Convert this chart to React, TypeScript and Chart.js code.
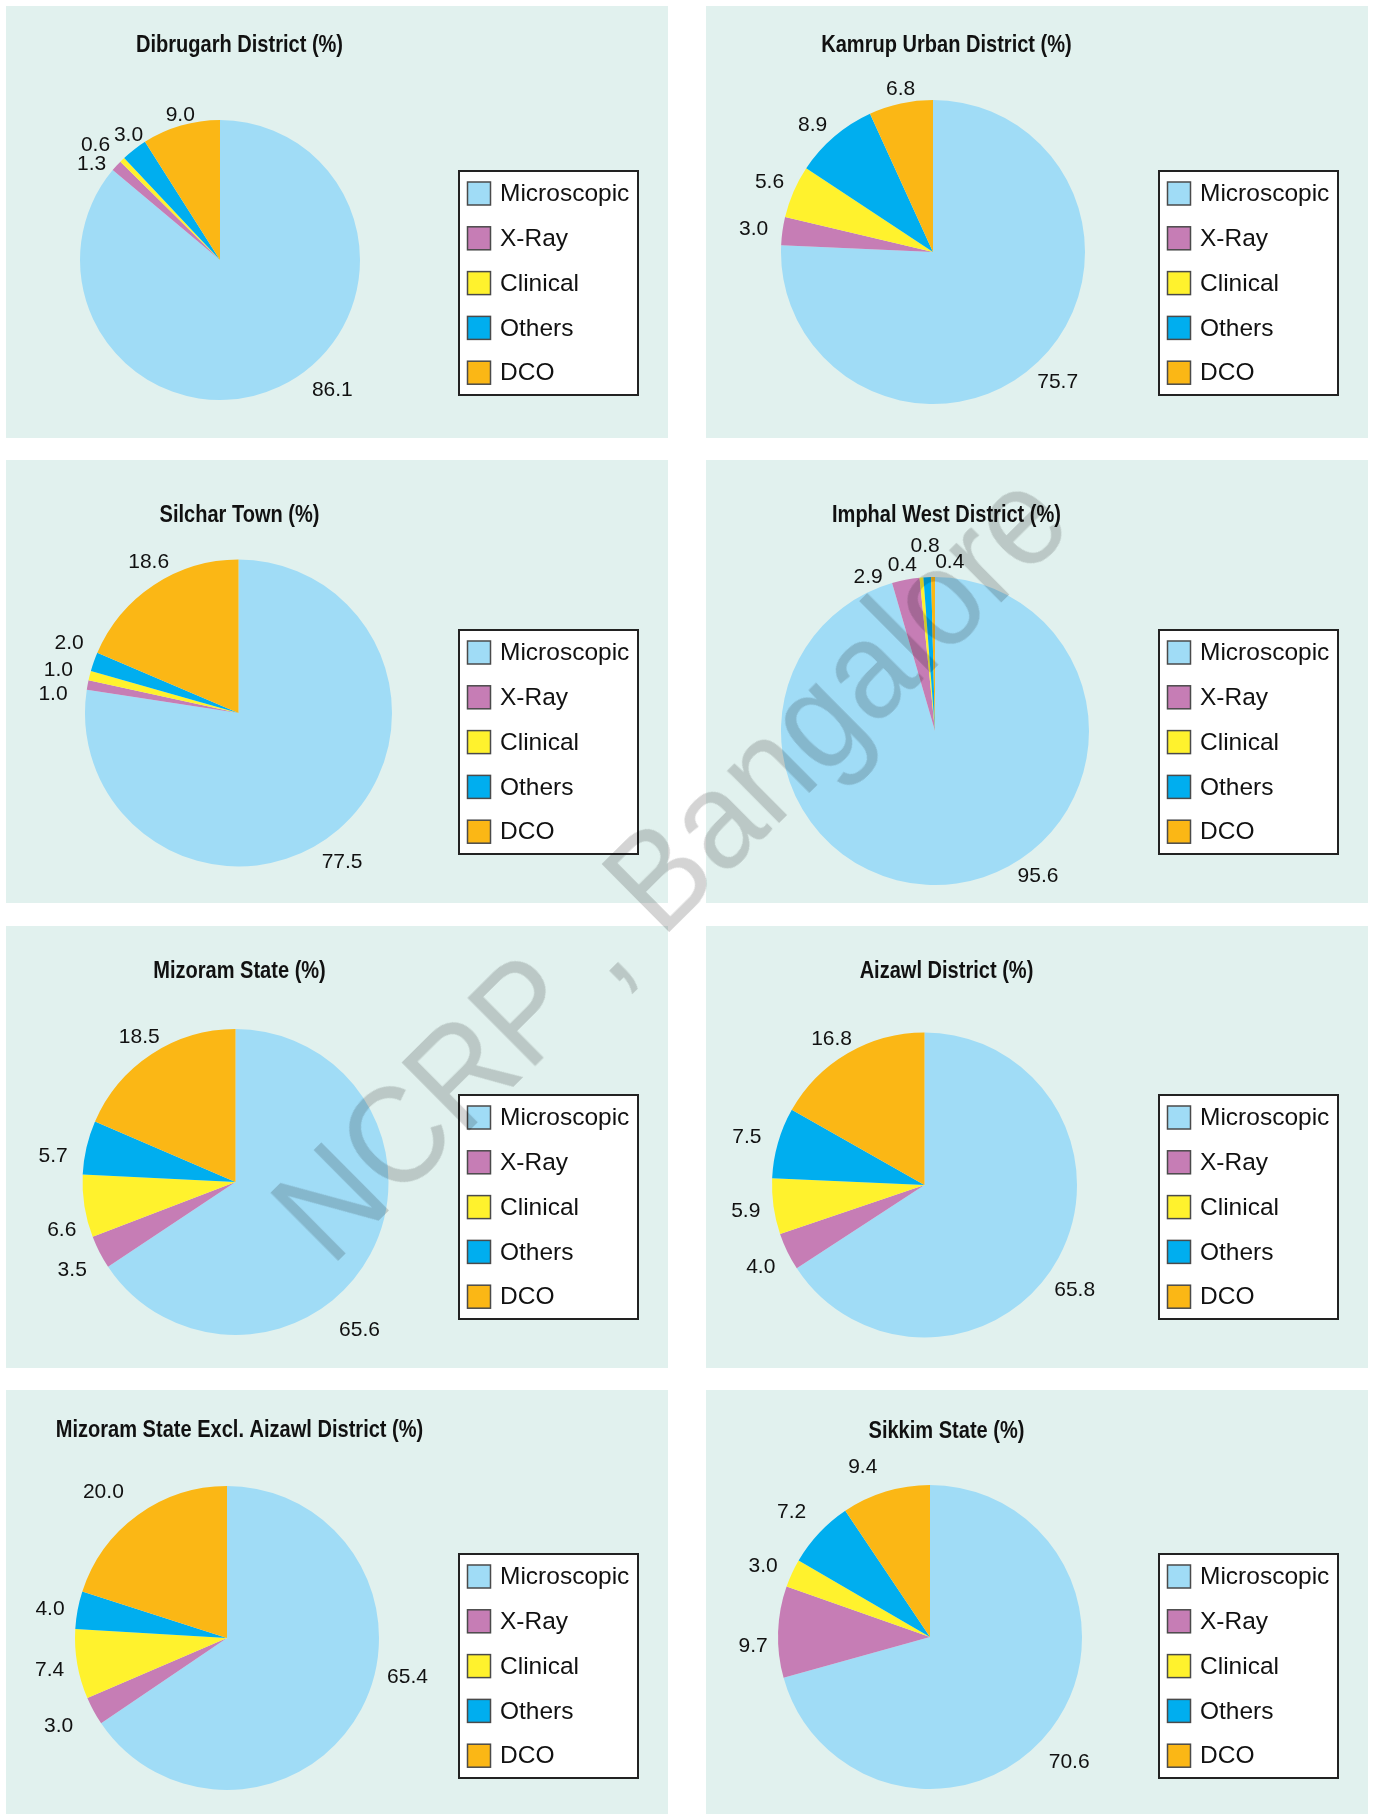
import React, { useEffect, useRef } from "react";
import { Chart, registerables } from "chart.js";

Chart.register(...registerables);

// ---------- data ----------
const categories = ["Microscopic", "X-Ray", "Clinical", "Others", "DCO"];

const titles = [
  "Dibrugarh District (%)",
  "Kamrup Urban District (%)",
  "Silchar Town (%)",
  "Imphal West District (%)",
  "Mizoram State (%)",
  "Aizawl District (%)",
  "Mizoram State Excl. Aizawl District (%)",
  "Sikkim State (%)",
];

const dibrugarh = [86.1, 1.3, 0.6, 3.0, 9.0];
const kamrupUrban = [75.7, 3.0, 5.6, 8.9, 6.8];
const silchar = [77.5, 1.0, 1.0, 2.0, 18.6];
const imphalWest = [95.6, 2.9, 0.4, 0.8, 0.4];
const mizoram = [65.6, 3.5, 6.6, 5.7, 18.5];
const aizawl = [65.8, 4.0, 5.9, 7.5, 16.8];
const mizoramExclAizawl = [65.4, 3.0, 7.4, 4.0, 20.0];
const sikkim = [70.6, 9.7, 3.0, 7.2, 9.4];

const seriesList = [
  dibrugarh,
  kamrupUrban,
  silchar,
  imphalWest,
  mizoram,
  aizawl,
  mizoramExclAizawl,
  sikkim,
];

const watermarkText = "NCRP , Bangalore";

// ---------- styles ----------
const sliceColors = ["#a0dcf6", "#c67db5", "#fff22d", "#00aeef", "#fbb715"];
const PANEL_BG = "#e1f1ee";
const FONT = "'Liberation Sans', Arial, Helvetica, sans-serif";

type Layout = {
  left: number;
  top: number;
  width: number;
  height: number;
  cx: number;
  cy: number;
  r: number;
  titleX: number;
  titleY: number;
  legendTop: number;
  nudges: number[][];
};

const layouts: Layout[] = [
  { left: 6, top: 6, width: 662, height: 432, cx: 214, cy: 254, r: 140, titleX: 233.5, titleY: 39, legendTop: 165,
    nudges: [[43, -18], [-7, 15], [-10, 3], [9, 5], [6, 13]] },
  { left: 706, top: 6, width: 662, height: 432, cx: 227, cy: 246, r: 152, titleX: 240.5, titleY: 39, legendTop: 165,
    nudges: [[3, 3], [-5, 1], [-2, 0], [-6, 7], [5, 9]] },
  { left: 6, top: 460, width: 662, height: 443, cx: 232.5, cy: 253, r: 153.5, titleX: 233.5, titleY: 55, legendTop: 170,
    nudges: [[-12, 15], [-11, 14], [-8, 0], [-2, -11], [8, -3]] },
  { left: 706, top: 460, width: 662, height: 443, cx: 229, cy: 271, r: 154, titleX: 240.5, titleY: 55, legendTop: 170,
    nudges: [[78, -31], [-33, 21], [-17, 12], [-1, -7], [17, 9]] },
  { left: 6, top: 926, width: 662, height: 442, cx: 229.5, cy: 256, r: 153, titleX: 233.5, titleY: 45.5, legendTop: 169,
    nudges: [[-32, 65], [-6, 7], [1, 20], [-10, 14], [1, 3]] },
  { left: 706, top: 926, width: 662, height: 442, cx: 218.5, cy: 259, r: 152.5, titleX: 240.5, titleY: 45.5, legendTop: 169,
    nudges: [[-5, 21], [-5, 5], [-4, 1], [-8, 1], [-4, 7]] },
  { left: 6, top: 1390, width: 662, height: 424, cx: 221, cy: 248, r: 152, titleX: 233.5, titleY: 40, legendTop: 164,
    nudges: [[25, -43], [-14, 4], [-4, 2], [-4, 4], [-20, -4]] },
  { left: 706, top: 1390, width: 662, height: 424, cx: 224, cy: 247, r: 152, titleX: 240.5, titleY: 41.5, legendTop: 164,
    nudges: [[-1, 19], [-1, 15], [-7, 3], [-10, -4], [-16, -1]] },
];

const LABEL_GAP = 24;
const LEGEND_X = 453;
const LEGEND_W = 179;
const LEGEND_H = 224;
const LEGEND_STEP = 44.8;

function PiePanel({ title, values, layout }: { title: string; values: number[]; layout: Layout }) {
  const canvasRef = useRef<HTMLCanvasElement | null>(null);

  useEffect(() => {
    const canvas = canvasRef.current;
    if (!canvas) return;

    const decor = {
      id: "decor",
      afterDraw(chart: any) {
        const ctx: CanvasRenderingContext2D = chart.ctx;
        const meta = chart.getDatasetMeta(0);
        const ds = chart.data.datasets[0];
        const labels: string[] = chart.data.labels;

        // title
        ctx.save();
        ctx.fillStyle = "#111";
        ctx.font = `bold 24px ${FONT}`;
        ctx.textAlign = "center";
        ctx.textBaseline = "middle";
        ctx.translate(layout.titleX, layout.titleY);
        ctx.scale(0.835, 1);
        ctx.fillText(title, 0, 0);
        ctx.restore();

        // value labels
        ctx.save();
        ctx.fillStyle = "#111";
        ctx.font = `21px ${FONT}`;
        ctx.textAlign = "center";
        ctx.textBaseline = "middle";
        meta.data.forEach((arc: any, i: number) => {
          const p = arc.getProps(["x", "y", "startAngle", "endAngle", "outerRadius"], true);
          const mid = (p.startAngle + p.endAngle) / 2;
          const R = p.outerRadius + LABEL_GAP;
          const n = layout.nudges[i] || [0, 0];
          const v = ds.data[i] as number;
          ctx.fillText(v.toFixed(1), p.x + Math.cos(mid) * R + n[0], p.y + Math.sin(mid) * R + n[1]);
        });
        ctx.restore();

        // legend
        ctx.save();
        const lx = LEGEND_X;
        const ly = layout.legendTop;
        ctx.fillStyle = "#ffffff";
        ctx.fillRect(lx, ly, LEGEND_W, LEGEND_H);
        ctx.strokeStyle = "#222";
        ctx.lineWidth = 2;
        ctx.strokeRect(lx, ly, LEGEND_W, LEGEND_H);
        ctx.font = `24.5px ${FONT}`;
        ctx.textAlign = "left";
        ctx.textBaseline = "middle";
        labels.forEach((lab, i) => {
          const cyItem = ly + 22.5 + i * LEGEND_STEP;
          ctx.fillStyle = ds.backgroundColor[i];
          ctx.fillRect(lx + 8.5, cyItem - 11.5, 23, 23);
          ctx.strokeStyle = "#4a4a4a";
          ctx.lineWidth = 1.5;
          ctx.strokeRect(lx + 8.5, cyItem - 11.5, 23, 23);
          ctx.fillStyle = "#111";
          ctx.fillText(lab, lx + 41, cyItem + 1);
        });
        ctx.restore();
      },
    };

    const chart = new Chart(canvas, {
      type: "pie",
      data: {
        labels: categories,
        datasets: [
          {
            data: values,
            backgroundColor: sliceColors,
            borderWidth: 0,
            hoverBorderWidth: 0,
            offset: 0,
            hoverOffset: 0,
          } as any,
        ],
      },
      options: {
        animation: false,
        responsive: false,
        events: [],
        layout: {
          padding: {
            left: layout.cx - layout.r,
            top: layout.cy - layout.r,
            right: layout.width - (layout.cx + layout.r),
            bottom: layout.height - (layout.cy + layout.r),
          },
        },
        plugins: {
          legend: { display: false },
          title: { display: false },
          tooltip: { enabled: false },
        },
      },
      plugins: [decor],
    });

    return () => {
      chart.destroy();
    };
  }, [title, values, layout]);

  return (
    <div
      style={{
        position: "absolute",
        left: layout.left,
        top: layout.top,
        width: layout.width,
        height: layout.height,
        background: PANEL_BG,
      }}
    >
      <canvas
        ref={canvasRef}
        width={layout.width}
        height={layout.height}
        style={{ width: layout.width, height: layout.height, display: "block" }}
      />
    </div>
  );
}

export default function App() {
  return (
    <div
      style={{
        position: "absolute",
        left: 0,
        top: 0,
        width: 1375,
        height: 1815,
        background: "#ffffff",
        overflow: "hidden",
      }}
    >
      {layouts.map((l, i) => (
        <PiePanel key={i} title={titles[i]} values={seriesList[i]} layout={l} />
      ))}
      <div
        style={{
          position: "absolute",
          left: 669,
          top: 864,
          transform: "translate(-50%, -50%) rotate(-44.8deg) scaleX(0.92)",
          fontFamily: FONT,
          fontSize: 139,
          lineHeight: 1,
          color: "#d4d4d4",
          mixBlendMode: "multiply",
          whiteSpace: "nowrap",
          pointerEvents: "none",
        }}
      >
        {watermarkText}
      </div>
    </div>
  );
}
